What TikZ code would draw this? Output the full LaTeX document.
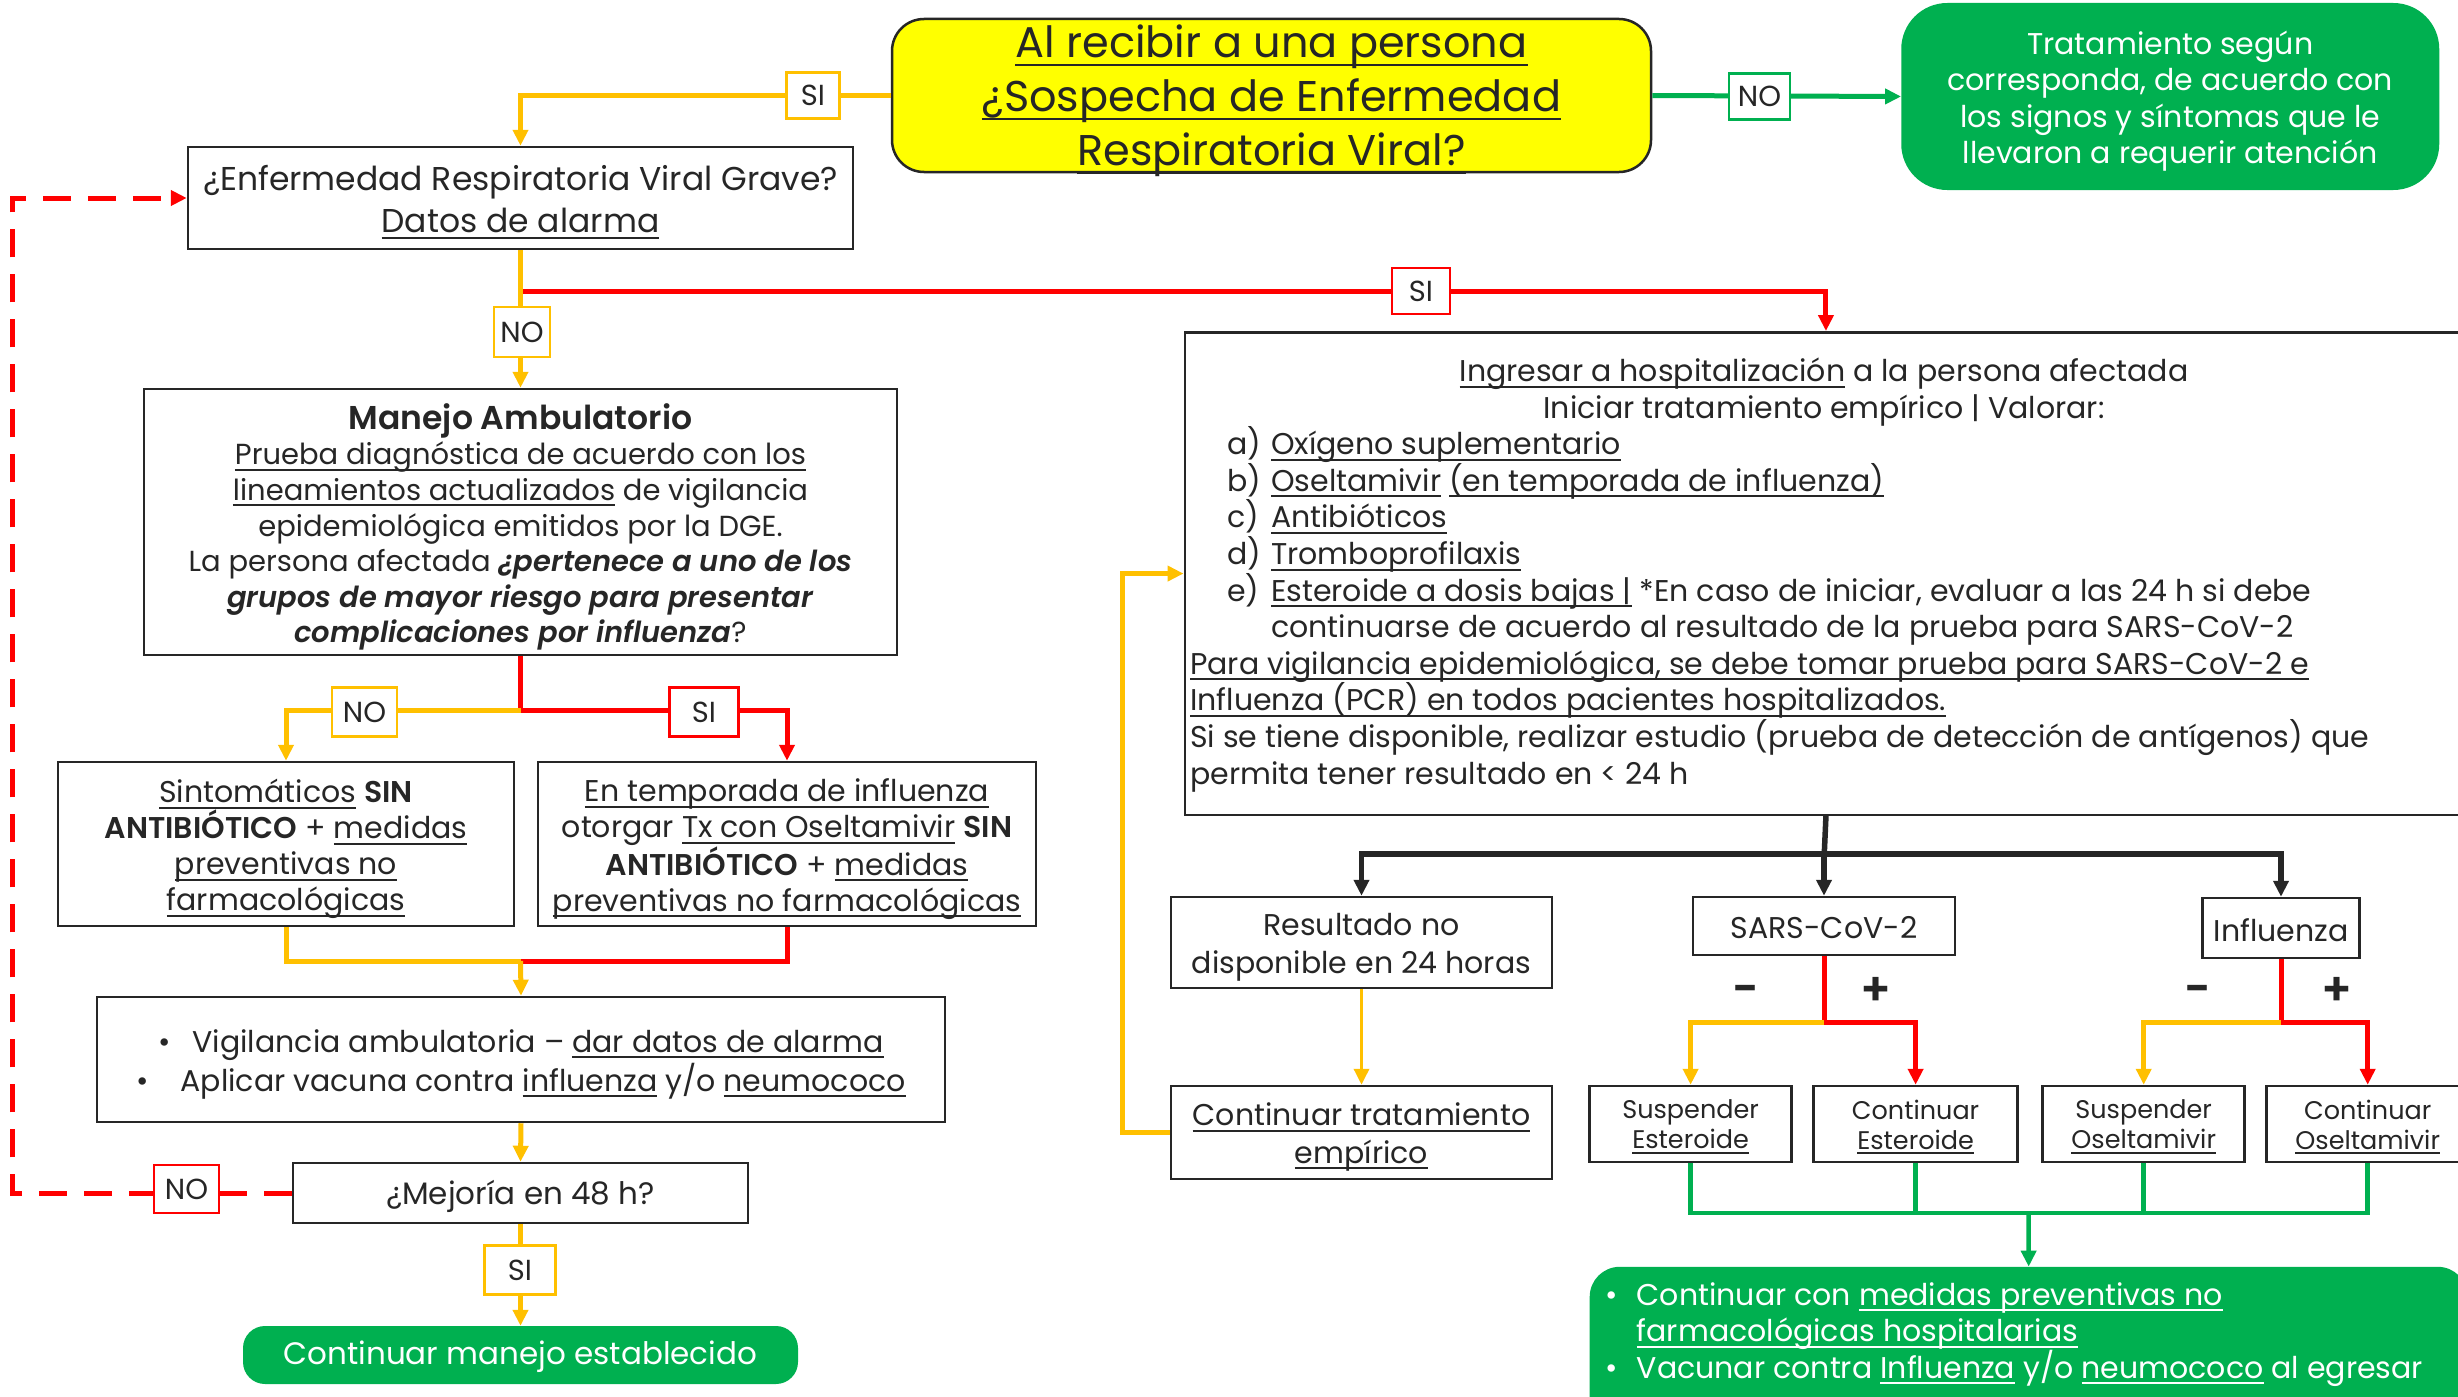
\documentclass[tikz,border=0pt]{standalone}
\usepackage{fontspec}
\setmainfont{Poppins}[BoldFont={Poppins SemiBold}, BoldItalicFont={Poppins SemiBold Italic}]
\newsavebox{\undbox}
\newcommand{\und}[1]{\leavevmode\sbox{\undbox}{#1}\rlap{\rule[-0.2em]{\wd\undbox}{2pt}}\usebox{\undbox}}
\usetikzlibrary{arrows.meta}
\definecolor{ora}{HTML}{FFC000}
\definecolor{rd}{HTML}{FF0000}
\definecolor{grn}{HTML}{00B050}
\definecolor{ylw}{HTML}{FFFF00}
\definecolor{bx}{HTML}{262626}
\newcommand{\fs}[2]{\fontsize{#1}{#2}\selectfont}
\begin{document}
\begin{tikzpicture}[x=1pt,y=-1pt,
  box/.style={draw=bx, line width=2.5pt, fill=white, inner sep=0pt},
  bt/.style={align=center, inner sep=0pt, text=bx},
  lbl/.style={draw, fill=white, line width=2.5pt, inner xsep=5pt, inner ysep=0pt, minimum height=46pt, text=bx, font=\fs{29}{30}},
  tip/.style={-{Triangle[length=16pt,width=15pt]}},
  cora/.style={draw=ora, line width=5pt},
  crd/.style={draw=rd, line width=5pt},
  cgr/.style={draw=grn, line width=4.5pt},
  cbk/.style={draw=bx, line width=5.5pt},
  txt/.style={anchor=base west, inner sep=0pt, text=bx, font=\fs{30}{36.6}},
  sign/.style={inner sep=0pt, text=bx, font=\bfseries\fs{46}{46}}
]
\useasboundingbox (0,0) rectangle (2458,1397);
\fill[white] (0,0) rectangle (2458,1397);

% ---------- boxes ----------
\node[box, fill=ylw, rounded corners=32pt, minimum width=759pt, minimum height=153pt] (top) at (1271.5,95.5) {};
\node[bt, font=\fs{43}{54}] (topT) at (1271.5,101)
  {\und{Al recibir a una persona}\\\und{¿Sospecha de Enfermedad}\\\und{Respiratoria Viral?}};
\node[fill=grn, rounded corners=46pt, minimum width=538pt, minimum height=187pt, inner sep=0pt] (trat) at (2170.25,96.5) {};
\node[bt, text=white, font=\fs{30}{36.5}] (tratT) at (2170.25,101)
  {Tratamiento según\\corresponda, de acuerdo con\\los signos y síntomas que le\\llevaron a requerir atención};
\node[box, minimum width=665pt, minimum height=102pt] (grave) at (520.5,198) {};
\node[bt, font=\fs{33}{41.5}] (graveT) at (520.5,202)
  {¿Enfermedad Respiratoria Viral Grave?\\\und{Datos de alarma}};
\node[box, minimum width=753pt, minimum height=266pt] (amb) at (520.5,522) {};
\node[bt, font=\fs{29}{35.6}] (ambT) at (520.5,527)
  {{\bfseries\fs{33}{35.6}Manejo Ambulatorio}\\
   \und{Prueba diagnóstica de acuerdo con los}\\
   \und{lineamientos actualizados} de vigilancia\\
   epidemiológica emitidos por la DGE.\\
   La persona afectada \textbf{\textit{¿pertenece a uno de los}}\\
   \textbf{\textit{grupos de mayor riesgo para presentar}}\\
   \textbf{\textit{complicaciones por influenza}}?};
\node[box, minimum width=456pt, minimum height=164pt] (sint) at (286,844) {};
\node[bt, font=\fs{30}{36}] (sintT) at (286,849)
  {\und{Sintomáticos} \textbf{SIN}\\\textbf{ANTIBIÓTICO} + \und{medidas}\\\und{preventivas no}\\\und{farmacológicas}};
\node[box, minimum width=498pt, minimum height=164pt] (temp) at (787,844) {};
\node[bt, font=\fs{30}{36}] (tempT) at (787,849)
  {\und{En temporada de influenza}\\otorgar \und{Tx con Oseltamivir} \textbf{SIN}\\\textbf{ANTIBIÓTICO} + \und{medidas}\\\und{preventivas no farmacológicas}};
\node[box, minimum width=848pt, minimum height=125pt] (vig) at (521,1059.5) {};
\node[bt, font=\fs{30}{39}] (vigT) at (521,1064)
  {\textbullet\hspace{22pt}Vigilancia ambulatoria – \und{dar datos de alarma}\\
   \textbullet\hspace{32pt}Aplicar vacuna contra \und{influenza} y/o \und{neumococo}};
\node[box, minimum width=455pt, minimum height=60pt] (mej) at (520.5,1193) {};
\node[bt, font=\fs{31}{36}] (mejT) at (520.5,1196) {¿Mejoría en 48 h?};
\node[fill=grn, rounded corners=22pt, minimum width=555pt, minimum height=58pt, inner sep=0pt] (cme) at (520.5,1355) {};
\node[bt, text=white, font=\fs{31}{36}] (cmeT) at (520.5,1357) {Continuar manejo establecido};

% hospital box
\node[box, anchor=north west, minimum width=1282.4pt, minimum height=482.6pt] (hosp) at (1183.5,331) {};
\node[txt, anchor=base] (h1) at (1824,381.5) {\und{Ingresar a hospitalización} a la persona afectada};
\node[txt, anchor=base] (h2) at (1824,418.1) {Iniciar tratamiento empírico | Valorar:};
\node[txt] (h3) at (1227,454.7) {\makebox[44pt][l]{a)}\und{Oxígeno suplementario}};
\node[txt] (h4) at (1227,491.3) {\makebox[44pt][l]{b)}\und{Oseltamivir} \und{(en temporada de influenza)}};
\node[txt] (h5) at (1227,527.9) {\makebox[44pt][l]{c)}\und{Antibióticos}};
\node[txt] (h6) at (1227,564.5) {\makebox[44pt][l]{d)}\und{Tromboprofilaxis}};
\node[txt] (h7) at (1227,601.1) {\makebox[44pt][l]{e)}\und{Esteroide a dosis bajas |} *En caso de iniciar, evaluar a las 24 h si debe};
\node[txt] (h8) at (1271,637.7) {continuarse de acuerdo al resultado de la prueba para SARS-CoV-2};
\node[txt] (h9) at (1190,674.3) {\und{Para vigilancia epidemiológica, se debe tomar prueba para SARS-CoV-2 e}};
\node[txt] (h10) at (1190,710.9) {\und{Influenza (PCR) en todos pacientes hospitalizados.}};
\node[txt] (h11) at (1190,747.5) {Si se tiene disponible, realizar estudio (prueba de detección de antígenos) que};
\node[txt] (h12) at (1190,784.1) {permita tener resultado en < 24 h};

\node[box, minimum width=381pt, minimum height=91pt] (res) at (1361.5,942.5) {};
\node[bt, font=\fs{30}{37.6}] (resT) at (1361.5,947) {Resultado no\\disponible en 24 horas};
\node[box, minimum width=262pt, minimum height=58pt] (sars) at (1824,926) {};
\node[bt, font=\fs{30}{36}] (sarsT) at (1824,928) {SARS-CoV-2};
\node[box, minimum width=157pt, minimum height=60pt] (inf) at (2281,928) {};
\node[bt, font=\fs{30}{36}] (infT) at (2281,930) {Influenza};
\node[box, minimum width=381pt, minimum height=93pt] (cte) at (1361.5,1132.5) {};
\node[bt, font=\fs{30}{37.6}] (cteT) at (1361.5,1137) {\und{Continuar tratamiento}\\\und{empírico}};
\node[box, minimum width=202pt, minimum height=76pt] (sest) at (1690.6,1124) {};
\node[bt, font=\fs{25.5}{30}] (sestT) at (1690.6,1127) {Suspender\\\und{Esteroide}};
\node[box, minimum width=204pt, minimum height=76pt] (cest) at (1915.6,1124) {};
\node[bt, font=\fs{25.5}{30}] (cestT) at (1915.6,1127) {Continuar\\\und{Esteroide}};
\node[box, minimum width=202pt, minimum height=76pt] (sose) at (2143.7,1124) {};
\node[bt, font=\fs{25.5}{30}] (soseT) at (2143.7,1127) {Suspender\\\und{Oseltamivir}};
\node[box, minimum width=202pt, minimum height=76pt] (cose) at (2367.7,1124) {};
\node[bt, font=\fs{25.5}{30}] (coseT) at (2367.7,1127) {Continuar\\\und{Oseltamivir}};

\node[fill=grn, rounded corners=30pt, anchor=north west, minimum width=878pt, minimum height=170pt] (fin) at (1589.5,1266.6) {};
\node[txt, text=white] (f1) at (1605,1305) {\makebox[31.6pt][l]{\textbullet}Continuar con \und{medidas preventivas no}};
\node[txt, text=white] (f2) at (1636.6,1341.6) {\und{farmacológicas hospitalarias}};
\node[txt, text=white] (f3) at (1605,1378.2) {\makebox[31.6pt][l]{\textbullet}Vacunar contra \und{Influenza} y/o \und{neumococo} al egresar};

% ---------- coordinates ----------
\coordinate (jA) at (520.5,291.6);
\coordinate (jB) at (520.5,710);
\coordinate (jC) at (520.5,961);
\coordinate (jL) at (12.5,700);
\coordinate (jH) at (1824.25,854);
\coordinate (jR) at (1122,800);
\coordinate (jS) at (1824,1022);
\coordinate (jI) at (2281,1022);
\coordinate (jG) at (2028.5,1213);

% ---------- connectors ----------
\draw[cora, tip] (top.west) -| (grave.north);
\draw[draw=grn, line width=5pt, tip] (top.east) -- (trat.west);
\draw[crd, tip] (jA) -| (hosp.north);
\draw[cora, tip] (grave.south) -- (amb.north);
\draw[crd] (amb.south) -- (jB);
\draw[crd, tip] (jB) -| (temp.north);
\draw[cora, tip] (jB) -| (sint.north);
\draw[cora] (sint.south) |- (jC);
\draw[crd] (temp.south) |- (jC);
\draw[cora, tip] (jC) -- (vig.north);
\draw[cora, tip] (vig.south) -- (mej.north);
\draw[cora, tip] (mej.south) -- (cme.north);
\draw[crd, line width=5pt, dash pattern=on 28pt off 17pt, tip] (mej.west) -| (jL) |- (grave.west);

\draw[cbk] (hosp.south) -- (jH);
\draw[cbk, tip] (jH) -| (res.north);
\draw[cbk, tip] (jH) -| (inf.north);
\draw[cbk, tip] (jH) -| (sars.north);
\draw[draw=ora, line width=3.5pt, tip] (res.south) -- (cte.north);
\draw[cora, tip] (cte.west) -| (jR) |- (hosp.west);
\draw[crd] (sars.south) -- (jS);
\draw[crd, tip] (jS) -| (cest.north);
\draw[cora, tip] (jS) -| (sest.north);
\draw[crd] (inf.south) -- (jI);
\draw[crd, tip] (jI) -| (cose.north);
\draw[cora, tip] (jI) -| (sose.north);
\draw[cgr] (sest.south) |- (jG);
\draw[cgr] (cest.south) |- (jG);
\draw[cgr] (sose.south) |- (jG);
\draw[cgr] (cose.south) |- (jG);
\draw[cgr, tip] (jG) -- (fin.north);

% ---------- labels ----------
\node[lbl, draw=ora, minimum width=53pt] (l1) at (813,95.5) {SI};
\node[lbl, draw=grn, minimum width=61pt] (l2) at (1759.5,96.5) {NO};
\node[lbl, draw=ora, minimum width=56pt, minimum height=50pt] (l3) at (522,332) {NO};
\node[lbl, draw=rd, minimum width=58pt] (l4) at (1421,291) {SI};
\node[lbl, draw=ora, minimum width=65pt, minimum height=49pt] (l5) at (364.5,712) {NO};
\node[lbl, draw=rd, minimum width=69pt, minimum height=49pt] (l6) at (704,712) {SI};
\node[lbl, draw=rd, minimum width=65pt, minimum height=48pt] (l7) at (186.5,1189) {NO};
\node[lbl, draw=ora, minimum width=71pt, minimum height=49pt] (l8) at (520,1270) {SI};

\node[sign] (s1) at (1746,995) {-};
\node[sign] (s2) at (1876,991) {+};
\node[sign] (s3) at (2198,995) {-};
\node[sign] (s4) at (2337,991) {+};
\end{tikzpicture}
\end{document}
